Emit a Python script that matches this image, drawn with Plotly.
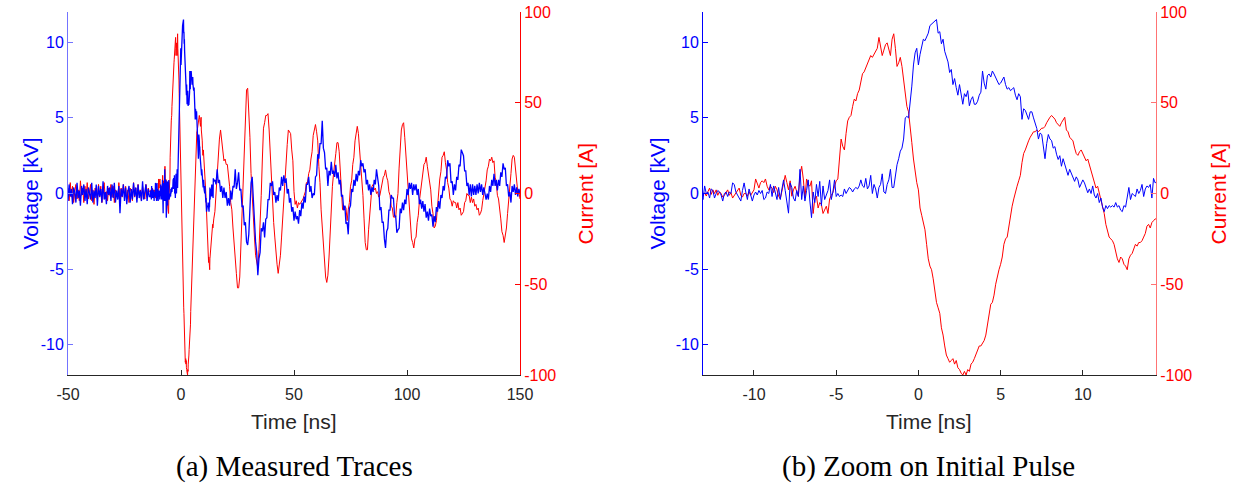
import numpy as np
import plotly.graph_objects as go

# ---------------- data ----------------
# sample clocks [ns]
time_pre = np.linspace(-50.0, -14.0, 73)
time_zoom = np.linspace(-13.5, 14.5, 281)
time_post = np.linspace(15.0, 150.0, 271)

# voltage [kV] before the pulse
voltage_pre = [
    -0.5, 0.6, -0.2, 0.3, -0.7, 0.4, 0.1, -0.6, 0.7, -0.3,
    0.2, -0.8, 0.5, -0.1, 0.6, -0.5, 0.3, -0.7, 0.4, 0.0,
    -0.4, 0.7, -0.6, 0.2, -0.3, 0.6, -0.8, 0.5, -0.2, 0.3,
    -0.6, 0.8, -0.4, 0.1, -0.7, 0.5, -0.1, 0.4, -0.5, 0.6,
    -0.3, 0.7, -0.6, 0.2, -0.4, 0.5, -1.3, 0.3, -0.2, 0.6,
    -0.5, 0.4, -0.7, 0.1, 0.5, -0.6, 0.3, -0.4, 0.7, -0.2,
    0.4, -0.6, 0.6, -0.3, 0.2, -0.5, 0.8, -0.4, 0.1, 0.6,
    -0.5, 0.3, -0.2]

# current [A] before the pulse
current_pre = [
    3, -4, 6, -2, 4, -5, 1, 5, -3, 2,
    -4, 7, -1, 3, -5, 4, -2, 6, -3, 1,
    5, -4, 2, -6, 3, 0, -3, 5, -2, 4,
    -5, 2, 6, -3, 1, -4, 3, -1, 5, -2,
    4, -5, 2, 0, -3, 6, -4, 3, -2, 5,
    -1, 4, -3, 2, -5, 3, 1, -4, 6, -2,
    3, -3, 5, -1, 2, -4, 4, 0, -3, 5,
    -2, 3, 1]

# voltage [kV] around the initial pulse (fine sampling)
voltage_zoom = [
    -0.2, 0.2, -0.1, 0.1, -0.4, 0.5, 0.0, 0.1, -0.3, 0.3,
    0.2, -0.3, 0.0, 0.2, 0.1, -0.1, -0.5, 0.0, 0.1, -0.2,
    0.1, 0.0, 0.7, 0.6, 0.1, -0.1, -0.4, -0.5, 0.2, 0.7,
    0.1, -0.4, 0.3, -0.1, -0.5, -0.1, 0.1, -0.1, 0.2, 0.0,
    0.2, -0.4, -0.3, 0.1, 0.0, 0.6, -0.2, 0.5, 0.0, -0.4,
    0.4, -0.4, 0.3, 0.9, 0.2, -0.5, -1.3, 0.7, 0.4, -0.3,
    -0.5, 0.2, -0.2, 1.6, -0.4, 0.5, -0.5, 0.2, 0.9, -0.5,
    -1.6, 0.1, -0.6, 0.6, -0.2, 0.8, -0.8, 0.5, -0.4, -0.1,
    0.2, 0.9, -0.4, 0.1, 0.9, -0.2, 0.0, -0.2, -0.1, -0.2,
    0.3, 0.0, 0.2, 0.4, 0.3, 0.1, 0.3, 0.4, 0.3, 0.5,
    0.9, 0.5, 0.4, 1.0, 0.3, 0.5, 1.2, 0.0, 0.6, 0.3,
    -0.3, 0.4, 0.6, 1.3, 0.1, 0.0, 0.6, 0.9, 1.6, 0.4,
    0.4, 1.2, 1.9, 2.3, 2.8, 3.0, 3.6, 5.0, 5.1, 5.0,
    6.0, 7.1, 8.5, 9.3, 9.6, 8.5, 9.2, 9.8, 10.2, 10.1,
    10.3, 10.6, 11.1, 11.2, 11.3, 11.4, 11.5, 10.6, 10.7, 9.9,
    10.2, 9.4, 9.0, 8.7, 8.0, 8.2, 7.2, 7.6, 7.0, 6.5,
    7.2, 6.6, 5.9, 6.6, 6.4, 6.8, 5.8, 6.2, 6.4, 5.9,
    5.9, 6.1, 6.5, 6.7, 8.1, 7.3, 6.9, 7.8, 7.9, 7.7,
    8.1, 7.9, 7.7, 7.4, 7.2, 7.3, 7.5, 7.7, 7.2, 6.9,
    7.0, 6.8, 6.9, 7.0, 6.5, 6.2, 6.6, 6.4, 4.9, 5.6,
    5.5, 5.2, 4.9, 5.4, 5.4, 5.0, 4.6, 4.3, 3.6, 4.0,
    3.9, 3.0, 2.3, 3.3, 3.9, 3.6, 3.5, 3.0, 3.1, 2.6,
    2.25, 2.5, 1.8, 2.3, 1.9, 1.6, 1.2, 1.6, 1.35, 1.0,
    0.8, 1.1, 0.9, 0.4, 0.6, 0.9, 0.7, 0.3, 0.05, 0.3,
    0.0, 0.5, -0.1, -0.3, 0.0, -0.6, -0.3, -0.9, -1.2, -0.8,
    -1.0, -0.8, -0.9, -0.8, -0.9, -0.6, -0.9, -0.8, -1.1, -1.2,
    -0.8, -0.9, -0.3, 0.4, -0.4, 0.0, -0.1, -0.2, 0.3, 0.0,
    0.2, 0.6, -0.2, 0.3, 0.5, 0.4, 0.6, -0.3, 1.0, 0.7,
    0.8]

# current [A] around the initial pulse (fine sampling)
current_zoom = [
    1, -2, 2, 0, -1, 0.4, -1.4, 1, 3, -0.5,
    2, 0, 2, -1, 1, 0, -2, -1, 1, 2,
    -1, 0.5, -2.5, -1, 0, 2, 3, -1, -2, 0,
    0, -1.5, 1, -1, 1, 2, 8, 5, 3, 6,
    7, 6, 8, 4, 2, 4, 3, 0.5, 4, 2,
    -1.5, -3, 1, 5, 10, 6, 2, 7, -1.5, 2,
    4, 1, -1.5, 10, 15, 8, -2.4, 8, 5, 4,
    7, -11, -3, -1.5, -8, -5, -6, -11, -9, -7,
    -11, -3, -1, 0.5, 4, 7, 8, 20, 30, 26,
    24, 33, 40, 42, 43, 48, 52, 51, 55, 57,
    62, 66, 67, 69, 72, 74, 76, 75, 77, 78,
    80, 86, 80, 76, 79, 82, 83, 79, 76, 85,
    88, 80, 70, 72, 75, 70, 62, 55, 48, 45,
    38, 28, 19, 12, 6, 2, -8, -12, -16, -20,
    -28, -36, -40, -42, -47, -54, -60, -63, -66, -74,
    -78, -84, -89, -91, -93, -92, -91, -94, -92, -96,
    -97, -99, -100, -98, -100, -97, -98, -94, -93, -91,
    -89, -86, -84, -84, -82, -81, -78, -72, -65, -61,
    -60, -56, -50, -45, -42, -39, -35, -28, -25, -24,
    -18, -12, -7, -3, 1, 4, 7, 10, 17, 22,
    24, 27, 29, 31, 33, 34, 34, 35, 34, 35,
    36, 36, 37, 39, 41, 42, 43, 42, 41, 39,
    38, 37, 39, 41, 42, 35, 34, 31, 30, 29,
    25, 22, 21, 23, 24, 22, 20, 18, 19, 16,
    13, 9, 7, 3, 4, 0, -4, -8, -11, -17,
    -21, -24, -25, -26, -28, -33, -36, -38, -35, -36,
    -39, -40, -42, -36, -34, -33, -30, -28, -29, -27,
    -27, -26, -24, -22, -18, -17, -19, -16, -15, -14,
    -14]

# voltage [kV] after the initial pulse
voltage_post = [
    0.9, 0.6, 1.6, 0.7, 0.9, 0.1, 0.5, -0.3, 0.4, -0.3,
    0.1, -0.8, -0.3, -0.8, 0.2, -0.4, 0.5, 0.4, 1.6, 0.3,
    0.7, 1.4, 0.2, 0.3, -0.9, -0.8, -2.1, -1.9, -3.2, -3.4,
    -2.7, -0.2, 0.7, 1.1, -0.6, -1.2, -3.2, -3.9, -5.4, -4.3,
    -3.9, -2.3, -2.5, -1.9, -2.9, -1.7, -1.6, -0.4, -0.4, 0.7,
    0.5, 0.8, -0.1, 0.1, -0.6, -0.1, -0.5, 0.4, 0.2, 1.1,
    0.5, 1.2, 0.7, 1.0, 0.0, 0.3, -0.6, -0.3, -1.2, -0.9,
    -1.8, -1.2, -1.7, -1.5, -2.0, -1.1, -1.5, -0.6, -1.0, -0.2,
    -0.6, 0.6, 0.6, 1.1, 0.1, 0.5, -0.3, 0.0, -0.1, 1.1,
    1.2, 2.6, 2.3, 3.3, 3.3, 4.8, 3.0, 2.7, 1.6, 1.7,
    0.5, 1.5, 1.2, 2.1, 1.3, 1.5, 1.1, 1.9, 1.0, 1.4,
    0.6, 0.9, -0.2, -0.1, -1.1, -0.8, -2.0, -1.9, -2.7, -1.0,
    -0.8, 0.3, 0.1, 0.9, 0.5, 1.3, 0.8, 1.5, 1.2, 2.2,
    1.8, 2.0, 1.4, 1.6, 0.6, 0.9, 0.2, 0.6, -0.1, 0.4,
    0.1, 0.9, 0.6, 1.6, 0.9, 0.5, -1.1, -0.9, -1.9, -1.9,
    -3.0, -3.6, -2.5, -2.3, -1.1, -1.1, -0.1, -0.3, -0.3, -1.5,
    -1.5, -2.6, -2.4, -2.3, -1.0, -1.3, -0.6, -1.1, -0.4, -0.7,
    0.3, -0.1, 0.7, 0.3, 0.7, -0.1, 0.6, 0.2, 0.6, -0.1,
    0.3, -0.7, -0.4, -1.0, -0.5, -1.2, -0.7, -1.6, -1.2, -1.8,
    -1.0, -1.5, -1.4, -2.2, -1.5, -1.9, -0.9, -1.2, -0.5, -1.0,
    -0.1, -0.3, 0.5, 0.2, 1.1, 1.0, 2.2, 1.8, 2.0, 0.7,
    0.8, -0.1, 0.6, 0.2, 1.1, 0.9, 1.9, 1.8, 2.9, 2.6,
    2.5, 1.5, 1.5, 0.5, 0.7, -0.1, 0.6, -0.2, 0.6, -0.1,
    0.5, -0.1, 0.6, 0.0, 0.7, 0.1, 0.6, -0.1, 0.4, 0.0,
    -0.4, 0.0, -0.4, 0.5, 0.1, 0.9, 0.5, 1.3, 0.5, 0.9,
    0.2, 0.9, 0.5, 1.4, 1.1, 2.0, 1.6, 1.7, 0.5, 0.6,
    -0.2, 0.1, -0.6, 0.5, 0.1, 0.6, -0.1, 0.4, -0.2, 0.3,
    0.0]

# current [A] after the initial pulse
current_post = [
    -10, 1, 11, 25, 30, 35, 29, 23, 18, 19,
    16, 16, 11, 4, -5, -9, -19, -26, -37, -44,
    -52, -52, -46, -29, -13, 6, 21, 46, 57, 58,
    46, 31, 11, -3, -17, -24, -34, -37, -41, -31,
    -19, -1, 19, 36, 39, 43, 43, 44, 35, 21,
    4, -4, -16, -24, -35, -39, -44, -39, -34, -24,
    -13, -2, 9, 21, 27, 35, 34, 33, 24, 18,
    1, -6, -4, -8, -5, -6, -5, -4, -3, -1,
    1, 6, 6, 11, 13, 19, 23, 32, 35, 38,
    34, 29, 15, 6, -9, -19, -31, -37, -46, -49,
    -45, -35, -21, -9, 4, 11, 19, 22, 28, 28,
    23, 11, 2, -9, -9, -7, -8, -15, -9, -5,
    4, 7, 16, 20, 29, 33, 37, 33, 25, 13,
    7, -1, -14, -27, -31, -31, -20, -13, -4, 4,
    5, 2, 3, 0, 1, -2, -1, 3, 5, 9,
    10, 13, 9, 7, 1, -1, -7, -8, -13, -13,
    -13, -5, 0, 14, 24, 35, 38, 39, 31, 21,
    9, 1, -11, -17, -25, -27, -30, -25, -24, -16,
    -12, -4, 1, 8, 11, 16, 17, 20, 15, 11,
    5, 2, -7, -11, -19, -18, -15, -6, -1, 8,
    12, 20, 21, 23, 17, 13, 6, 3, -3, -4,
    -7, -4, -5, -5, -8, -5, -9, -8, -12, -11,
    -10, -5, -4, 0, -1, -1, -5, -2, -5, -3,
    -7, -6, -9, -8, -12, -11, -9, -4, -1, 4,
    7, 13, 15, 19, 18, 20, 17, 18, 9, 6,
    -1, -3, -11, -14, -21, -23, -27, -23, -19, -11,
    -5, 5, 11, 19, 21, 20, 13, 8, 1, 1,
    -3]

x_ticks_a = [-50, 0, 50, 100, 150]
x_ticks_b = [-10, -5, 0, 5, 10]
v_ticks = [-10, -5, 0, 5, 10]
i_ticks = [-100, -50, 0, 50, 100]
captions = ["(a) Measured Traces", "(b) Zoom on Initial Pulse"]

assert len(voltage_pre) == len(time_pre) == len(current_pre)
assert len(voltage_zoom) == len(time_zoom) == len(current_zoom)
assert len(voltage_post) == len(time_post) == len(current_post)

time_full = np.concatenate([time_pre, time_zoom, time_post])
voltage_full = np.concatenate([voltage_pre, voltage_zoom, voltage_post])
current_full = np.concatenate([current_pre, current_zoom, current_post])

# ---------------- figure ----------------
W, H = 1233, 484
BLUE = "#0000FF"
RED = "#FF0000"
BLUE_SOFT = "#7373FF"
RED_SOFT = "#FF7373"
DARK = "#262626"
SANS = "Liberation Sans, Arial, Helvetica, sans-serif"
SERIF = "Liberation Serif, Times New Roman, serif"

fig = go.Figure()
# left panel
fig.add_trace(go.Scatter(x=time_full, y=current_full, mode="lines",
                         line=dict(color=RED, width=1), xaxis="x", yaxis="y",
                         showlegend=False, hoverinfo="skip"))
fig.add_trace(go.Scatter(x=time_full, y=voltage_full, mode="lines",
                         line=dict(color=BLUE, width=1.3), xaxis="x", yaxis="y2",
                         showlegend=False, hoverinfo="skip"))
# right panel
fig.add_trace(go.Scatter(x=time_zoom, y=current_zoom, mode="lines",
                         line=dict(color=RED, width=1), xaxis="x2", yaxis="y3",
                         showlegend=False, hoverinfo="skip"))
fig.add_trace(go.Scatter(x=time_zoom, y=voltage_zoom, mode="lines",
                         line=dict(color=BLUE, width=1), xaxis="x2", yaxis="y4",
                         showlegend=False, hoverinfo="skip"))

ydom = [(H - 375) / H, (H - 12) / H]
xdom_a = [68 / W, 520 / W]
xdom_b = [703 / W, 1156 / W]


def labels(vals):
    return [str(v) for v in vals]   # plain hyphen-minus like the reference


def xax(dom, rng, ticks, anchor):
    return dict(domain=dom, range=rng, anchor=anchor, tickvals=ticks,
                ticktext=labels(ticks), automargin=False, ticklabelstandoff=5,
                ticks="inside", ticklen=5, tickwidth=1, tickcolor=DARK,
                showline=True, linecolor=DARK, linewidth=1, mirror=False,
                showgrid=False, zeroline=False,
                tickfont=dict(family=SANS, size=16, color=DARK))


def yax(color, linecolor, rng, ticks, side, anchor, overlay=None, dom=None):
    d = dict(range=rng, anchor=anchor, side=side, tickvals=ticks,
             ticktext=labels(ticks), automargin=False,
             ticks="inside", ticklen=5, tickwidth=1, tickcolor=linecolor,
             showline=True, linecolor=linecolor, linewidth=1,
             showgrid=False, zeroline=False,
             tickfont=dict(family=SANS, size=16, color=color))
    if overlay:
        d["overlaying"] = overlay
    if dom:
        d["domain"] = dom
    return d


fig.update_layout(
    width=W, height=H, autosize=False,
    margin=dict(l=0, r=0, t=0, b=0, pad=0, autoexpand=False),
    paper_bgcolor="white", plot_bgcolor="white",
    xaxis=xax(xdom_a, [-50, 150], x_ticks_a, "y"),
    yaxis=yax(RED, RED, [-100, 100], i_ticks, "right", "x", dom=ydom),
    yaxis2=yax(BLUE, BLUE_SOFT, [-12, 12], v_ticks, "left", "x", overlay="y"),
    xaxis2=xax(xdom_b, [-13.1, 14.45], x_ticks_b, "y3"),
    yaxis3=yax(RED, RED_SOFT, [-100, 100], i_ticks, "right", "x2", dom=ydom),
    yaxis4=yax(BLUE, BLUE, [-12, 12], v_ticks, "left", "x2", overlay="y3"),
)


def ann(text, xpx, ypx, size, color, family, angle=0):
    return dict(text=text, x=xpx / W, y=1 - ypx / H, xref="paper", yref="paper",
                xanchor="center", yanchor="middle", showarrow=False,
                textangle=angle, font=dict(family=family, size=size, color=color))


annotations = [
    ann("Voltage [kV]", 30, 193.5, 21, BLUE, SANS, -90),
    ann("Voltage [kV]", 657, 193.5, 21, BLUE, SANS, -90),
    ann("Current [A]", 585, 193.5, 21, RED, SANS, -90),
    ann("Current [A]", 1218, 193.5, 21, RED, SANS, -90),
    ann("Time [ns]", 294, 421, 21, DARK, SANS),
    ann("Time [ns]", 929.5, 421, 21, DARK, SANS),
    ann(captions[0], 294, 466, 29, "black", SERIF),
    ann(captions[1], 928, 466, 29, "black", SERIF),
]
fig.update_layout(annotations=annotations)

fig.write_html("out.html")
